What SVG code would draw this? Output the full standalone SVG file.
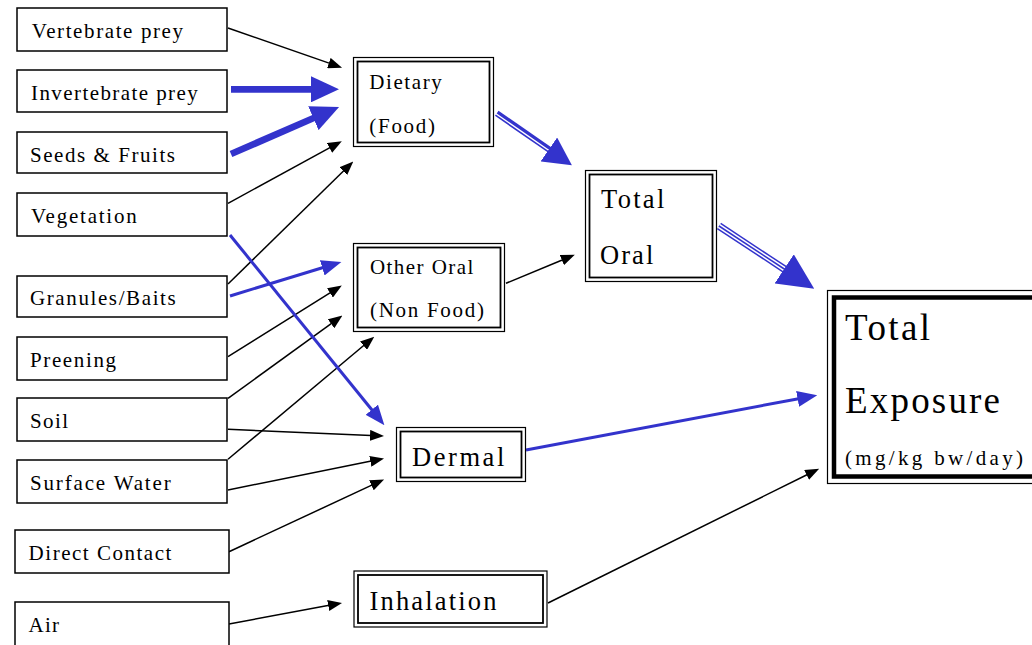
<svg xmlns="http://www.w3.org/2000/svg" width="1032" height="645" viewBox="0 0 1032 645">
<style>
  .box{fill:#fff;stroke:#000;stroke-width:1.5}
  .outer{fill:#fff;stroke:#000;stroke-width:1.2}
  .inner{fill:none;stroke:#000;stroke-width:1.8}
  .t{font-family:"Liberation Serif","Times New Roman",serif;fill:#000}
  .s{font-size:21px}
  .m{font-size:26.5px}
  .l{font-size:37px}
  .k{fill:none;stroke:#000;stroke-width:1.5}
  .bm{fill:none;stroke:#3333cc;stroke-width:3}
  .bt{fill:none;stroke:#3333cc;stroke-width:6.7}
</style>
<defs>
  <marker id="mk" markerUnits="userSpaceOnUse" orient="auto" refX="1" refY="5.5" markerWidth="14" markerHeight="11"><path d="M0,0 L14,5.5 L0,11 z" fill="#000"/></marker>
  <marker id="mbm" markerUnits="userSpaceOnUse" orient="auto" refX="1" refY="8" markerWidth="20" markerHeight="16"><path d="M0,0 L20,8 L0,16 z" fill="#3333cc"/></marker>
  <marker id="mbt" markerUnits="userSpaceOnUse" orient="auto" refX="1" refY="13" markerWidth="28" markerHeight="26"><path d="M0,0 L28,13 L0,26 z" fill="#3333cc"/></marker>
  <marker id="mbd" markerUnits="userSpaceOnUse" orient="auto" refX="1" refY="14.5" markerWidth="28" markerHeight="29"><path d="M0,0 L28,14.5 L0,29 z" fill="#3333cc"/></marker>
  <marker id="mbx" markerUnits="userSpaceOnUse" orient="auto" refX="1" refY="17.5" markerWidth="36" markerHeight="35"><path d="M0,0 L36,17.5 L0,35 z" fill="#3333cc"/></marker>
</defs>
<rect width="1032" height="645" fill="#fff"/>

<g id="connectors">
  <path class="k" d="M228,28 L329.8,63.4" marker-end="url(#mk)"/>
  <path class="bt" d="M231,89.3 L312,89.3" marker-end="url(#mbt)"/>
  <path class="bt" d="M231,154 L314.3,117.8" marker-end="url(#mbt)"/>
  <path class="k" d="M228,203.3 L330.4,147.4" marker-end="url(#mk)"/>
  <path class="k" d="M228,284 L344,170.5" marker-end="url(#mk)"/>
  <path class="bm" d="M230,296 L323.2,267.5" marker-end="url(#mbm)"/>
  <path class="k" d="M228,356.7 L330.8,292.4" marker-end="url(#mk)"/>
  <path class="k" d="M228,398.3 L331.9,323.2" marker-end="url(#mk)"/>
  <path class="k" d="M228,459.3 L364.3,345" marker-end="url(#mk)"/>
  <path class="bm" d="M230,235 L372.4,410.5" marker-end="url(#mbm)"/>
  <path class="k" d="M228,429.3 L371,435.4" marker-end="url(#mk)"/>
  <path class="k" d="M228,490 L371.3,461.1" marker-end="url(#mk)"/>
  <path class="k" d="M229,551.7 L372.3,484.9" marker-end="url(#mk)"/>
  <path class="k" d="M229,624 L329.2,605.3" marker-end="url(#mk)"/>
  <path class="k" d="M506,283.3 L562.8,259.7" marker-end="url(#mk)"/>
  <path class="bm" d="M526,450 L798.6,398.7" marker-end="url(#mbm)"/>
  <path class="k" d="M548,603 L807.5,474.5" marker-end="url(#mk)"/>
  <!-- double line Dietary -> Total Oral -->
  <path fill="none" stroke="#3333cc" stroke-width="3.2" d="M497.6,112.1 L551.4,149.4"/>
  <path fill="none" stroke="#3333cc" stroke-width="1.6" d="M495.4,115.2 L549.2,152.4"/>
  <path fill="none" stroke="none" d="M496.7,113.3 L549.7,150" marker-end="url(#mbd)"/>
  <!-- triple line Total Oral -> Total Exposure -->
  <path fill="none" stroke="#3333cc" stroke-width="7.5" d="M719,226 L785,269.5"/>
  <path fill="none" stroke="#fff" stroke-width="4.5" d="M719,226 L785,269.5"/>
  <path fill="none" stroke="#3333cc" stroke-width="1.5" d="M719,226 L785,269.5"/>
  <path fill="none" stroke="none" d="M719,226 L785,269.5" marker-end="url(#mbx)"/>
</g>

<g id="vertebrate-prey"><rect class="box" x="17" y="8" width="210" height="43"/><text class="t s" x="31.7" y="37.7" textLength="151.3" lengthAdjust="spacing">Vertebrate prey</text></g>
<g id="invertebrate-prey"><rect class="box" x="17" y="70" width="210" height="42"/><text class="t s" x="31" y="100" textLength="166.7" lengthAdjust="spacing">Invertebrate prey</text></g>
<g id="seeds-fruits"><rect class="box" x="17" y="132" width="210" height="41"/><text class="t s" x="30" y="161.7" textLength="145" lengthAdjust="spacing">Seeds &amp; Fruits</text></g>
<g id="vegetation"><rect class="box" x="17" y="193" width="210" height="43"/><text class="t s" x="31" y="223.3" textLength="105.7" lengthAdjust="spacing">Vegetation</text></g>
<g id="granules-baits"><rect class="box" x="17" y="276" width="210" height="41"/><text class="t s" x="30" y="305" textLength="145.7" lengthAdjust="spacing">Granules/Baits</text></g>
<g id="preening"><rect class="box" x="17" y="337" width="210" height="43"/><text class="t s" x="30" y="367.3" textLength="86" lengthAdjust="spacing">Preening</text></g>
<g id="soil"><rect class="box" x="17" y="398" width="210" height="43"/><text class="t s" x="30" y="428.3" textLength="38" lengthAdjust="spacing">Soil</text></g>
<g id="surface-water"><rect class="box" x="17" y="460" width="210" height="43"/><text class="t s" x="30" y="490" textLength="140.7" lengthAdjust="spacing">Surface Water</text></g>
<g id="direct-contact"><rect class="box" x="15" y="530" width="214" height="43"/><text class="t s" x="28.6" y="560" textLength="142.8" lengthAdjust="spacing">Direct Contact</text></g>
<g id="air"><rect class="box" x="15" y="602" width="214" height="46"/><text class="t s" x="28.6" y="631.7" textLength="30.4" lengthAdjust="spacing">Air</text></g>

<g id="dietary"><rect class="outer" x="353.5" y="57.5" width="140" height="89"/><rect class="inner" x="357.5" y="61.5" width="132" height="81"/><text class="t s" x="369.3" y="89" textLength="72.4" lengthAdjust="spacing">Dietary</text><text class="t s" x="369.3" y="132.7" textLength="65.7" lengthAdjust="spacing">(Food)</text></g>
<g id="other-oral"><rect class="outer" x="353.5" y="243.5" width="151" height="88"/><rect class="inner" x="357.5" y="247.5" width="143" height="80"/><text class="t s" x="370" y="274" textLength="103.3" lengthAdjust="spacing">Other Oral</text><text class="t s" x="370" y="317.3" textLength="114" lengthAdjust="spacing">(Non Food)</text></g>
<g id="total-oral"><rect class="outer" x="585.5" y="170.5" width="131" height="111"/><rect class="inner" x="589.5" y="174.5" width="123" height="103"/><text class="t m" x="601" y="208.3" textLength="63.3" lengthAdjust="spacing">Total</text><text class="t m" x="600" y="264" textLength="53.3" lengthAdjust="spacing">Oral</text></g>
<g id="dermal"><rect class="outer" x="396.5" y="427.5" width="129" height="54"/><rect class="inner" x="400.5" y="431.5" width="121" height="46"/><text class="t m" x="412" y="466" textLength="92.3" lengthAdjust="spacing">Dermal</text></g>
<g id="inhalation"><rect class="outer" x="354" y="571" width="193" height="56"/><rect class="inner" x="358" y="575" width="185" height="48"/><text class="t m" x="369.6" y="610" textLength="126.8" lengthAdjust="spacing">Inhalation</text></g>
<g id="total-exposure"><rect class="outer" x="827.5" y="290.5" width="215" height="193"/><rect fill="none" stroke="#000" stroke-width="4.5" x="834" y="297.5" width="210" height="179"/><text class="t l" x="845" y="340" textLength="85" lengthAdjust="spacing">Total</text><text class="t l" x="845" y="413" textLength="155" lengthAdjust="spacing">Exposure</text><text class="t s" x="845" y="465" textLength="178" lengthAdjust="spacing">(mg/kg bw/day)</text></g>
</svg>
